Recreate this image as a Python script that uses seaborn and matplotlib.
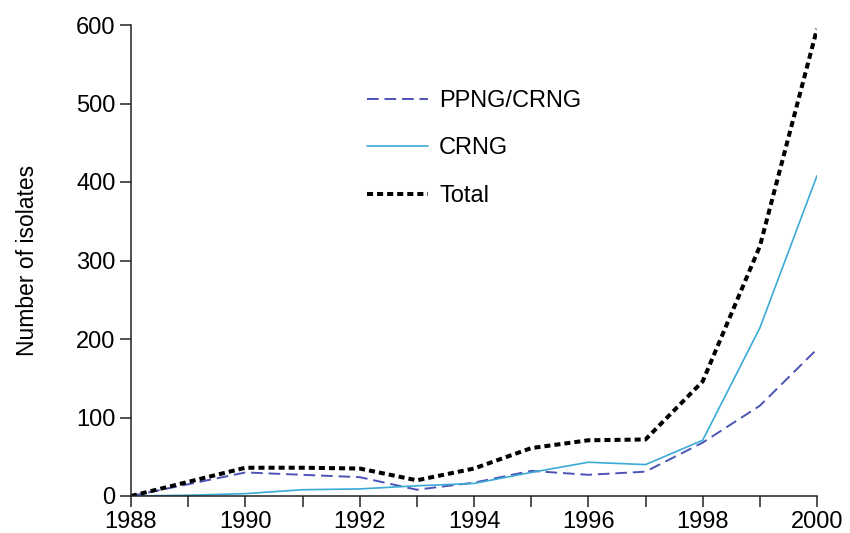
import matplotlib
matplotlib.use("Agg")
import matplotlib.pyplot as plt
import seaborn as sns
import pandas as pd

years = [1988, 1989, 1990, 1991, 1992, 1993, 1994, 1995, 1996, 1997, 1998, 1999, 2000]
ppng_crng = [0, 15, 30, 27, 24, 8, 17, 32, 27, 31, 68, 115, 187]
crng = [0, 1, 3, 8, 9, 13, 16, 30, 43, 40, 71, 214, 408]
total = [0, 18, 36, 36, 35, 20, 35, 61, 71, 72, 146, 318, 595]
yticks = [0, 100, 200, 300, 400, 500, 600]

sns.set_style("ticks")
plt.rcParams["font.family"] = ["Liberation Sans", "DejaVu Sans"]
plt.rcParams["text.color"] = "black"
plt.rcParams["xtick.color"] = "black"
plt.rcParams["ytick.color"] = "black"
plt.rcParams["axes.labelcolor"] = "black"

df = pd.DataFrame({"year": years, "PPNG/CRNG": ppng_crng, "CRNG": crng, "Total": total})

W, H = 850, 533
fig = plt.figure(figsize=(W / 100, H / 100), dpi=100)
left, right, top, bottom = 131, 817, 25, 496
ax = fig.add_axes([left / W, 1 - bottom / H, (right - left) / W, (bottom - top) / H])

sns.lineplot(data=df, x="year", y="PPNG/CRNG", ax=ax, color="#4d53b5", lw=1.4,
             label="PPNG/CRNG")
ax.lines[-1].set_dashes([6, 3])
sns.lineplot(data=df, x="year", y="CRNG", ax=ax, color="#3aaad6", lw=1.2,
             label="CRNG")
sns.lineplot(data=df, x="year", y="Total", ax=ax, color="black", lw=2.9,
             label="Total")
ax.lines[-1].set_dashes([1.5, 1.0])

ax.set_xlim(1988, 2000)
ax.set_ylim(0, 600)
ax.set_xticks(years)
ax.set_xticklabels([str(y) if y % 2 == 0 else "" for y in years], fontsize=17)
ax.set_yticks(yticks)
ax.set_yticklabels([str(v) for v in yticks], fontsize=17)
ax.tick_params(axis="both", direction="out", length=8, width=1.1, color="#222222", pad=3)
for s in ["left", "bottom"]:
    ax.spines[s].set_linewidth(1.1)
    ax.spines[s].set_color("#222222")
sns.despine(ax=ax)
ax.set_xlabel("")
ax.set_ylabel("Number of isolates", fontsize=16.5, labelpad=27)

handles, labels = ax.get_legend_handles_labels()
leg = ax.legend(handles, labels, loc="upper left",
                bbox_to_anchor=(367 / W, 1 - 90 / H), bbox_transform=fig.transFigure,
                frameon=False, fontsize=17, handlelength=2.6, labelspacing=1.08,
                handletextpad=0.45, borderpad=0, borderaxespad=0)

fig.savefig("out.png", dpi=100)
